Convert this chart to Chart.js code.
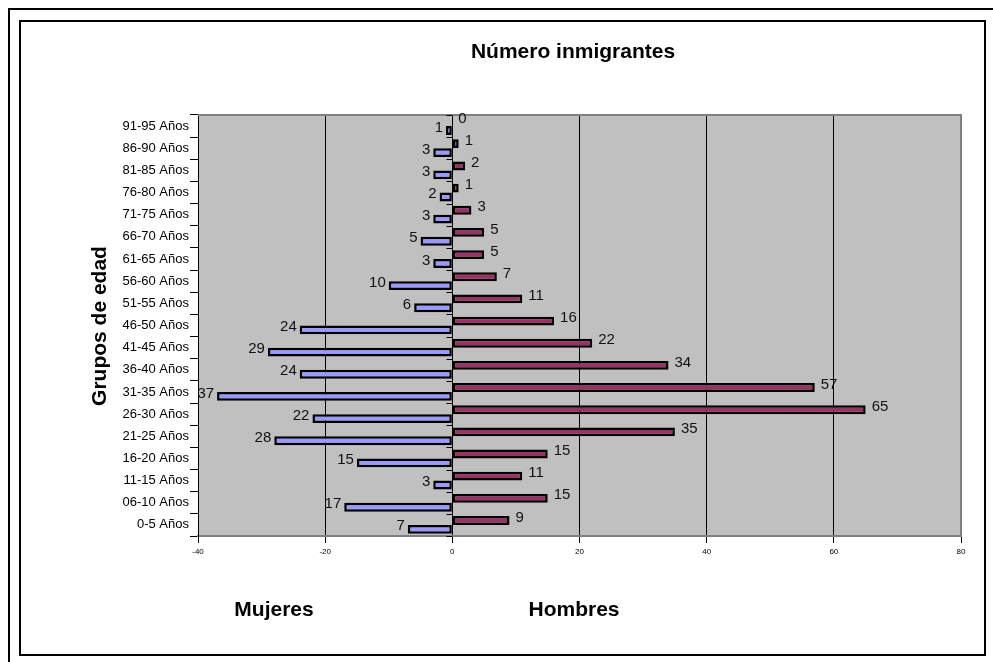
<!DOCTYPE html>
<html>
<head>
<meta charset="utf-8">
<script src="https://cdn.jsdelivr.net/npm/chart.js@4"></script>
<style>
  html, body { margin: 0; padding: 0; background: #fff; }
  #chart { display: block; }
</style>
</head>
<body>
<canvas id="chart" width="993" height="662"></canvas>
<script>
// age groups, bottom to top as in the source sheet
const ageGroups = ['0-5 Años', '06-10 Años', '11-15 Años', '16-20 Años', '21-25 Años', '26-30 Años',
  '31-35 Años', '36-40 Años', '41-45 Años', '46-50 Años', '51-55 Años', '56-60 Años', '61-65 Años',
  '66-70 Años', '71-75 Años', '76-80 Años', '81-85 Años', '86-90 Años', '91-95 Años'];
const mujeres = [7, 17, 3, 15, 28, 22, 37, 24, 29, 24, 6, 10, 3, 5, 3, 2, 3, 3, 1];
const hombres = [9, 15, 11, 15, 35, 65, 57, 34, 22, 16, 11, 7, 5, 5, 3, 1, 2, 1, 0];
const xTicks = [-40, -20, 0, 20, 40, 60, 80];

const chartTitle = 'Número inmigrantes';
const yTitle = 'Grupos de edad';
const leftLabel = 'Mujeres';
const rightLabel = 'Hombres';

const FONT = "'Liberation Sans', Arial, sans-serif";

const frame = {
  id: 'frame',
  beforeDraw(chart) {
    const { ctx, chartArea: a } = chart;
    ctx.save();
    ctx.fillStyle = '#c0c0c0';
    ctx.fillRect(a.left, a.top, a.right - a.left, a.bottom - a.top);
    ctx.restore();
  },
  afterDraw(chart) {
    const { ctx, chartArea: a } = chart;
    const x = chart.scales.x;
    const y = chart.scales.y;
    ctx.save();

    // outer frames
    ctx.strokeStyle = '#000';
    ctx.lineWidth = 2;
    ctx.beginPath();
    ctx.moveTo(9, 1000);
    ctx.lineTo(9, 9);
    ctx.lineTo(1000, 9);
    ctx.stroke();
    ctx.strokeRect(20, 21, 965, 634);

    // plot border top / right
    ctx.strokeStyle = '#808080';
    ctx.lineWidth = 2;
    ctx.beginPath();
    ctx.moveTo(a.left, a.top);
    ctx.lineTo(a.right, a.top);
    ctx.lineTo(a.right, a.bottom);
    ctx.stroke();

    // small ticks on the category axis at zero
    const x0 = Math.round(x.getPixelForValue(0)) + 0.5;
    const step = Math.abs(y.getPixelForValue(1) - y.getPixelForValue(0));
    ctx.strokeStyle = '#000';
    ctx.lineWidth = 1;
    ctx.beginPath();
    for (let i = 0; i < ageGroups.length; i++) {
      const b = Math.round(y.getPixelForValue(i) + step / 2) + 0.5;
      ctx.moveTo(x0 - 6, b);
      ctx.lineTo(x0, b);
    }
    const topB = Math.round(y.getPixelForValue(ageGroups.length - 1) - step / 2) + 0.5;
    ctx.moveTo(x0 - 6, topB);
    ctx.lineTo(x0, topB);
    ctx.stroke();

    // data labels
    ctx.fillStyle = '#111';
    ctx.font = '15px ' + FONT;
    ctx.textBaseline = 'middle';
    chart.data.datasets.forEach((ds, di) => {
      const meta = chart.getDatasetMeta(di);
      meta.data.forEach((bar, i) => {
        const v = Math.abs(ds.data[i]);
        if (ds.side === 'left') {
          ctx.textAlign = 'right';
          ctx.fillText(String(v), bar.x - 3, bar.y - 3);
        } else {
          ctx.textAlign = 'left';
          ctx.fillText(String(v), bar.x + 6, bar.y - 3);
        }
      });
    });

    // titles
    ctx.fillStyle = '#000';
    ctx.font = 'bold 21px ' + FONT;
    ctx.textAlign = 'center';
    ctx.textBaseline = 'alphabetic';
    ctx.fillText(chartTitle, 573, 58);
    ctx.fillText(leftLabel, 274, 616);
    ctx.fillText(rightLabel, 574, 616);

    ctx.translate(106, 326);
    ctx.rotate(-Math.PI / 2);
    ctx.fillText(yTitle, 0, 0);
    ctx.restore();
  },
};

new Chart(document.getElementById('chart'), {
  type: 'bar',
  data: {
    labels: ageGroups,
    datasets: [
      {
        label: rightLabel,
        side: 'right',
        data: hombres,
        backgroundColor: '#993366',
        borderColor: '#000',
        borderWidth: 2.5,
        borderSkipped: false,
        categoryPercentage: 0.8,
        barPercentage: 1,
      },
      {
        label: leftLabel,
        side: 'left',
        data: mujeres.map((v) => -v),
        backgroundColor: '#9999ff',
        borderColor: '#000',
        borderWidth: 2.5,
        borderSkipped: false,
        categoryPercentage: 0.8,
        barPercentage: 1,
      },
    ],
  },
  options: {
    indexAxis: 'y',
    responsive: false,
    animation: false,
    devicePixelRatio: 1,
    layout: { padding: { top: 115, right: 32, left: 0, bottom: 0 } },
    plugins: {
      legend: { display: false },
      tooltip: { enabled: false },
    },
    scales: {
      x: {
        min: xTicks[0],
        max: xTicks[xTicks.length - 1],
        afterBuildTicks: (scale) => {
          scale.ticks = xTicks.map((v) => ({ value: v }));
        },
        afterFit: (scale) => {
          scale.height = 126;
        },
        ticks: {
          color: '#000',
          font: { family: FONT, size: 8 },
          padding: 4,
          maxRotation: 0,
        },
        grid: {
          color: (c) => (c.tick && c.tick.value === 80 ? '#808080' : '#000'),
          tickColor: '#000',
          tickLength: 7,
          lineWidth: 1,
        },
        border: { color: '#808080', width: 2 },
      },
      y: {
        reverse: true,
        afterFit: (scale) => {
          scale.width = 198;
        },
        ticks: {
          color: '#000',
          font: { family: FONT, size: 13 },
          padding: 1,
          autoSkip: false,
        },
        grid: {
          offset: true,
          drawOnChartArea: false,
          color: '#000',
          tickLength: 8,
        },
        border: { color: '#000', width: 1 },
      },
    },
  },
  plugins: [frame],
});
</script>
</body>
</html>
